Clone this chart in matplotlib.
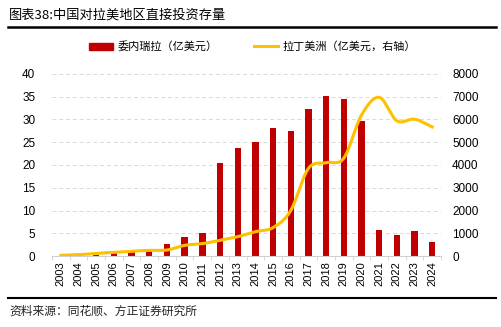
import matplotlib
matplotlib.use('Agg')
import numpy as np
import matplotlib.pyplot as plt
from matplotlib.lines import Line2D
from matplotlib.patches import Patch

plt.rcParams['font.family'] = ['Liberation Sans', 'Noto Sans CJK SC', 'DejaVu Sans']

years = [str(y) for y in range(2003, 2025)]
venezuela = [0.0, 0.0, 0.2, 0.8, 1.0, 1.3, 2.7, 4.1, 5.0, 20.5, 23.7, 25.0,
             28.1, 27.5, 32.2, 35.2, 34.5, 29.7, 5.7, 4.6, 5.6, 3.1]
latam = [30, 60, 120, 160, 210, 250, 265, 470, 545, 690, 850, 1070,
         1250, 2000, 3850, 4100, 4300, 6190, 6970, 5940, 6010, 5670]

bar_color = '#C00000'
line_color = '#FFC000'


def catmull_rom(x, y, n=20):
    # smooth curve through the points, like the spreadsheet "smoothed line"
    x = np.asarray(x, float); y = np.asarray(y, float)
    px = np.concatenate([[2*x[0]-x[1]], x, [2*x[-1]-x[-2]]])
    py = np.concatenate([[2*y[0]-y[1]], y, [2*y[-1]-y[-2]]])
    xs = []; ys = []
    t = np.linspace(0, 1, n, endpoint=False)
    for i in range(1, len(px)-2):
        for p, out in ((px, xs), (py, ys)):
            p0, p1, p2, p3 = p[i-1], p[i], p[i+1], p[i+2]
            out.extend(0.5*((2*p1) + (-p0+p2)*t + (2*p0-5*p1+4*p2-p3)*t**2
                            + (-p0+3*p1-3*p2+p3)*t**3))
    xs.append(x[-1]); ys.append(y[-1])
    return np.array(xs), np.array(ys)


fig = plt.figure(figsize=(5.02, 3.27), dpi=100)
ax = fig.add_axes([0.1036, 0.217, 0.775, 0.557])
x = np.arange(len(years))
ax.bar(x, venezuela, width=0.36, color=bar_color, zorder=2)
ax.set_xlim(-0.5, len(years)-0.5)
ax.set_ylim(0, 40)
ax.set_yticks(np.arange(0, 41, 5))
ax.set_xticks(x)
ax.set_xticklabels(years, rotation=90, fontsize=8)
ax.tick_params(axis='y', length=0, labelsize=8.5, pad=12)
ax.tick_params(axis='x', length=0, pad=4)
ax.set_xticks(np.arange(-0.5, len(years), 1), minor=True)
ax.tick_params(axis='x', which='minor', length=3, color='#D0D0D0')
ax.grid(axis='y', linestyle=(0, (4, 3)), color='#D9D9D9', linewidth=0.7, zorder=0)
for s in ['top', 'right', 'left']:
    ax.spines[s].set_visible(False)
ax.spines['bottom'].set_color('#D0D0D0')

ax2 = ax.twinx()
sx, sy = catmull_rom(x, latam)
ax2.plot(sx, sy, color=line_color, linewidth=2.2, zorder=3)
ax2.set_ylim(0, 8000)
ax2.set_yticks(np.arange(0, 8001, 1000))
ax2.tick_params(axis='y', length=0, labelsize=8.5, pad=8)
for s in ['top', 'right', 'left', 'bottom']:
    ax2.spines[s].set_visible(False)

handles = [Patch(color=bar_color), Line2D([0], [0], color=line_color, linewidth=2.2)]
fig.legend(handles, ['委内瑞拉（亿美元）', '拉丁美洲（亿美元，右轴）'],
           loc='center', bbox_to_anchor=(0.503, 0.857), ncol=2, frameon=False,
           handlelength=2.2, handleheight=0.6, handletextpad=0.4, columnspacing=3.2,
           prop={'family': ['Noto Sans CJK SC'], 'size': 8})

fig.text(0.018, 0.955, '图表38:中国对拉美地区直接投资存量', fontsize=9.5,
         family=['Noto Sans CJK SC'], va='center')
fig.add_artist(Line2D([0.016, 0.988], [0.918, 0.918], color='black', linewidth=1.8))
fig.add_artist(Line2D([0.016, 0.988], [0.088, 0.088], color='black', linewidth=1.5))
fig.text(0.018, 0.048, '资料来源：同花顺、方正证券研究所', fontsize=8.5,
         family=['Noto Sans CJK SC'], va='center', color='#222222')

fig.savefig('out.png', dpi=100)
